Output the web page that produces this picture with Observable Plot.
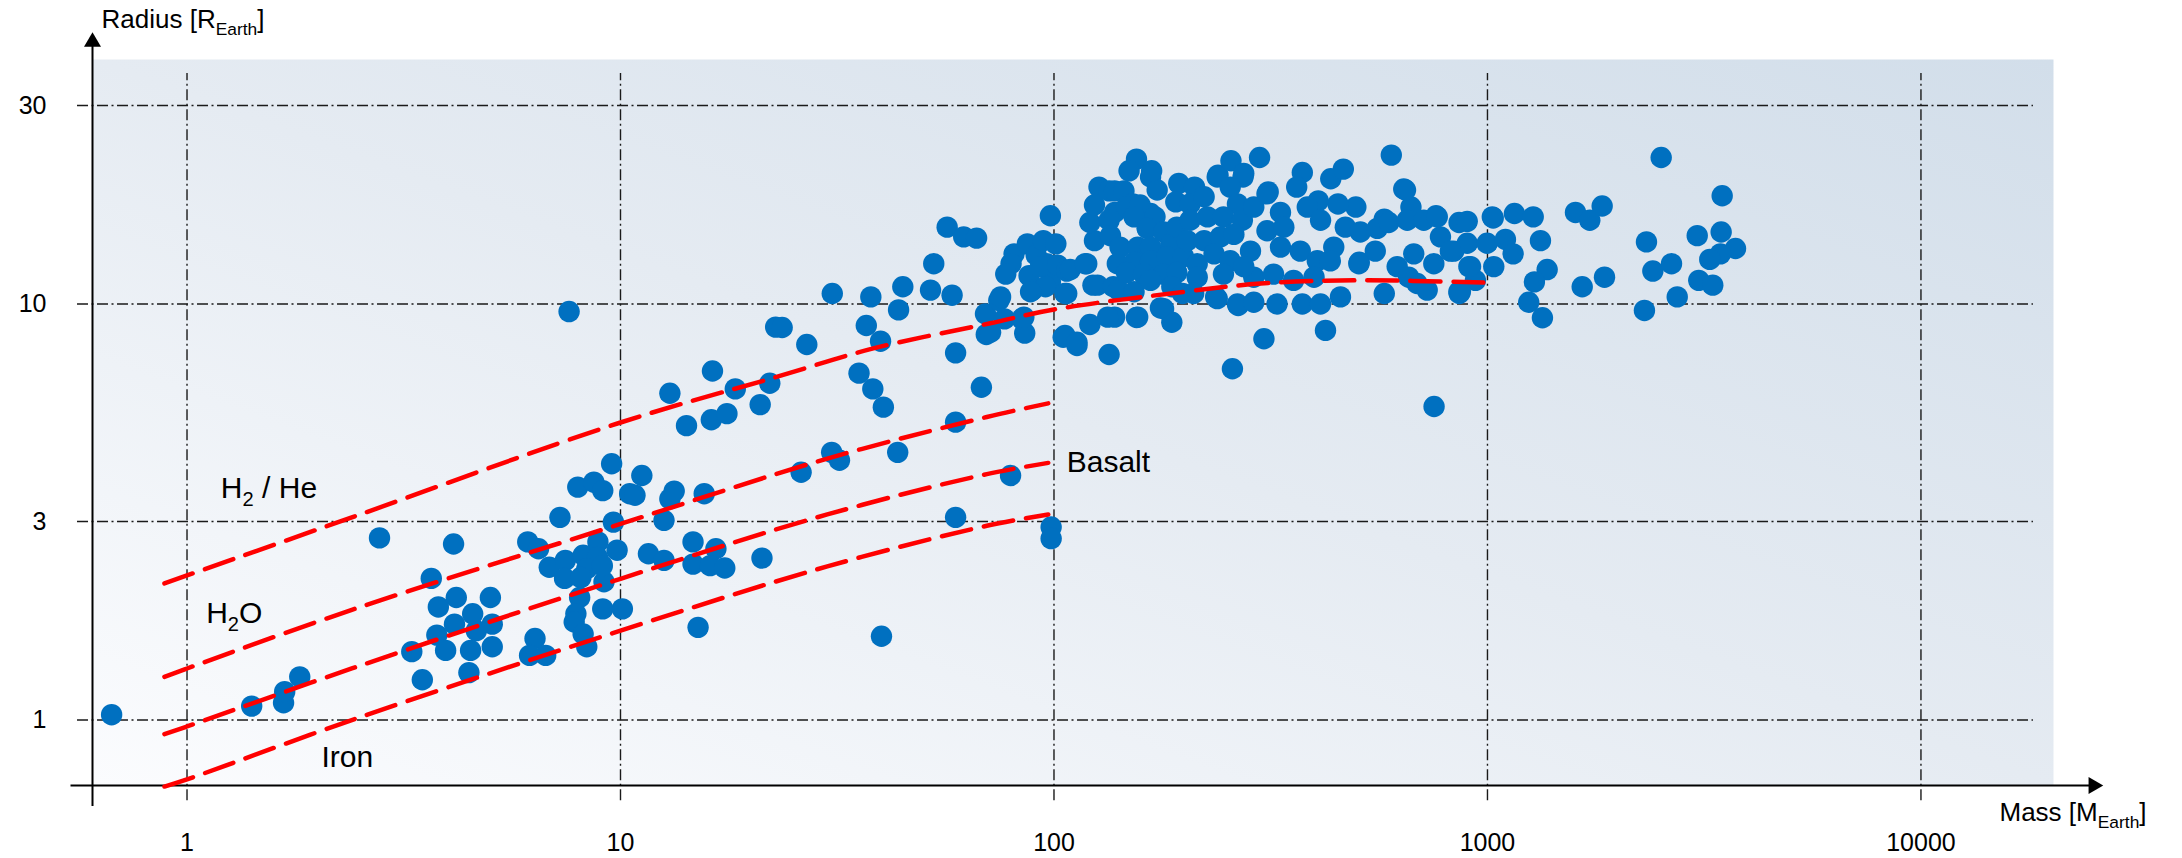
<!DOCTYPE html>
<html>
<head>
<meta charset="utf-8">
<script src="https://cdn.jsdelivr.net/npm/d3@7"></script>
<script src="https://cdn.jsdelivr.net/npm/@observablehq/plot@0.6"></script>
<style>
  html, body { margin: 0; padding: 0; background: #ffffff; }
  #chart svg { display: block; }
</style>
</head>
<body>
<div id="chart"></div>
<script>
// ---------- data (mass in Earth masses, radius in Earth radii) ----------
const planetMass = [
  0.67,1.41,1.67,1.68,1.82,2.78,3.30,3.49,3.66,3.80,3.77,3.95,4.14,4.18,4.12,4.47,4.51,4.56,4.65,5.01,5.06,5.06,
  6.35,6.17,6.72,6.11,6.47,6.85,7.46,7.43,7.25,8.20,8.87,8.85,8.36,9.16,9.82,9.08,8.10,
  7.97,8.68,9.10,9.54,9.63,10.5,10.8,11.2,8.05,7.89,7.82,9.10,10.1,8.20,8.36,
  11.6,12.6,12.6,13.0,13.3,15.6,14.7,16.6,14.7,16.1,17.4,21.2,15.1,40.0,7.61,
  13.0,14.2,16.2,17.6,16.3,18.4,22.1,21.0,22.8,23.6,26.9,26.1,30.7,32.0,43.6,
  30.8,37.8,44.8,43.8,36.9,39.8,35.5,38.2,40.4,
  56.7,61.9,66.3,52.8,51.9,58.2,59.3,69.8,69.5,74.6,68.0,59.3,59.3,79.4,98.5,98.5,
  80.9,86.8,79.6,77.4,87.6,91.0,94.5,98.1,96.3,89.2,98.1,76.9,84.3,85.6,75.3,85.2,71.4,93.1,95.6,88.3,
  101,102,107,107,119,124,121,127,124,134,123,121,106,113,134,138,109,118,106,105,113,138,145,134,135,126,137,133,140,142,
  155,141,153,167,155,149,173,138,152,167,168,147,158,171,153,164,179,156,167,186,153,167,182,199,147,161,179,192,167,187,198,156,179,187,176,194,191,192,
  211,206,222,239,256,298,273,312,238,274,255,265,206,226,246,272,203,222,242,260,214,234,255,214,246,210,238,265,236,266,289,258,289,284,289,274,
  374,363,435,465,497,452,407,310,333,384,412,470,509,310,339,333,370,442,405,434,321,357,398,327,374,412,458,305,423,
  600,641,666,761,578,860,506,551,578,557,592,653,713,779,836,898,998,914,859,938,752,676,619,505,688,658,726,753,898,1026,647,766,861,
  1031,1154,1275,1325,1100,1146,1034,821,906,866,1373,1283,1245,1339,1596,1839,1722,1654,1862,2327,2407,2658,2740,2302,3047,3460,3479,3734,3447,3257,3072,3309,2516
];
const planetRadius = [
  1.03,1.08,1.10,1.17,1.27,2.74,1.46,1.25,2.19,1.87,1.60,1.47,1.70,1.97,2.65,1.30,1.47,1.80,1.64,1.97,1.70,1.50,
  1.57,1.43,1.43,2.68,2.58,2.33,2.42,2.19,3.07,2.49,2.68,2.46,2.31,2.15,2.56,2.35,2.20,
  3.63,3.73,3.56,4.13,2.99,3.50,3.47,3.87,1.97,1.80,1.72,1.85,1.85,1.61,1.50,
  2.51,2.42,3.02,3.40,3.55,3.50,2.68,2.58,2.37,2.35,2.32,2.45,1.67,1.59,9.59,
  6.10,5.10,5.27,5.45,6.90,6.25,6.45,5.73,8.80,8.78,7.99,3.94,4.40,4.21,4.40,
  10.6,10.4,11.0,9.68,8.88,8.14,6.82,6.25,5.65,
  15.3,14.5,14.4,12.5,10.8,10.5,7.63,8.45,9.47,10.2,6.31,5.20,3.07,3.87,2.91,2.73,
  13.2,13.95,12.5,11.8,11.7,13.1,14.2,16.3,12.5,10.8,11.3,9.21,9.21,8.51,10.4,9.30,8.55,12.3,11.0,10.7,
  13.95,12.4,12.0,10.6,12.5,14.2,15.7,19.1,17.3,18.7,11.1,8.93,8.40,7.95,7.56,9.30,12.1,12.5,10.6,8.32,8.09,18.7,18.7,15.9,14.6,11.1,11.0,9.30,12.5,13.7,
  9.28,10.8,10.7,20.2,22.3,20.9,18.8,16.6,17.4,16.5,20.9,17.1,17.3,16.2,16.2,15.2,14.9,13.7,13.7,13.95,12.6,12.7,13.0,13.0,11.9,11.8,11.8,11.9,11.4,11.0,10.6,9.30,9.74,9.04,9.79,19.5,17.6,15.3,
  19.1,17.4,18.1,20.4,22.1,22.5,20.2,18.6,20.2,20.6,19.1,17.4,15.9,16.2,16.2,15.9,14.2,14.2,14.5,14.7,12.5,13.2,12.7,11.6,11.8,10.6,10.3,10.0,10.4,9.92,10.1,6.99,17.1,13.4,11.6,12.3,
  20.7,19.1,20.0,21.1,17.1,17.4,17.7,18.4,16.6,17.1,15.9,15.3,14.9,15.0,15.3,13.7,13.4,13.7,12.7,12.7,11.8,11.4,11.6,10.0,10.0,10.0,10.4,8.25,8.64,
  22.8,18.9,17.1,16.3,16.0,15.7,12.6,13.4,10.6,15.2,15.7,15.9,15.9,14.5,13.4,14.0,14.0,12.3,10.7,11.4,12.5,13.2,12.3,12.5,11.2,11.6,10.8,5.67,15.8,16.2,18.8,16.2,10.6,
  16.1,16.5,16.2,14.2,14.3,13.2,12.3,13.4,12.3,10.7,12.1,11.3,10.1,9.27,16.6,17.2,15.9,11.0,11.6,14.1,12.0,12.5,10.4,9.65,14.6,14.9,18.2,13.6,13.2,12.8,11.4,11.1,22.5
];

// composition curves
const curveNames = ["H2/He", "H2O", "Basalt", "Iron"];
const gasMass = [0.887, 2.4, 10, 22.8, 38.3, 71.3, 100, 200, 300, 500, 1000];
const gasRadius = [2.13, 3.07, 5.19, 6.67, 7.82, 8.99, 9.7, 10.7, 11.2, 11.4, 11.25];
const rockyMass = [0.887, 1, 2.4, 10, 30, 70, 97];
const waterRadius = [1.27, 1.33, 1.84, 2.96, 4.25, 5.35, 5.77];
const basaltRadius = [0.925, 0.965, 1.33, 2.185, 3.12, 3.90, 4.15];
const ironRadius = [0.692, 0.72, 1.00, 1.64, 2.34, 2.93, 3.12];

// annotations
const labelText = ["H_{2} / He", "H_{2}O", "Basalt", "Iron"];
const labelMass = [1.197, 1.107, 107, 2.043];
const labelRadius = [3.41, 1.709, 3.94, 0.770];

// axes
const xTicks = [1, 10, 100, 1000, 10000];
const yTicks = [1, 3, 10, 30];
const xTitle = "Mass [M_{Earth}]";
const yTitle = "Radius [R_{Earth}]";
const xDomain = [0.6053, 20219];
const yDomain = [0.696, 38.7];
const vGridExtent = [0.640, 35.8];     // radius extent of vertical grid lines
const hGridExtent = [0.559, 18178];    // mass extent of horizontal grid lines
const xAxisExtent = [0.540, 25000];    // mass extent of the x axis line
const yAxisExtent = [0.620, 41.6];     // radius extent of the y axis line
const yArrowAt = 42.65;                // radius of y arrow head
const xArrowAt = 25000;                // mass of x arrow head

// ---------- build tables ----------
const planets = planetMass.map((m, i) => ({mass: m, radius: planetRadius[i]}));
const curves = [];
gasMass.forEach((m, i) => curves.push({series: curveNames[0], mass: m, radius: gasRadius[i]}));
[waterRadius, basaltRadius, ironRadius].forEach((arr, k) =>
  rockyMass.forEach((m, i) => curves.push({series: curveNames[k + 1], mass: m, radius: arr[i]})));
const labels = labelText.map((t, i) => ({text: t, mass: labelMass[i], radius: labelRadius[i]}));

const FONT = "'Liberation Sans', Arial, Helvetica, sans-serif";
const GRID = {stroke: "#1a1a1a", strokeWidth: 1.4, strokeDasharray: "11,3.5,2,3.5"};

const svg = Plot.plot({
  width: 2182,
  height: 858,
  marginLeft: 92,
  marginRight: 129,
  marginTop: 59,
  marginBottom: 73,
  style: {fontFamily: FONT, color: "#000", background: "#ffffff", overflow: "visible"},
  x: {type: "log", domain: xDomain},
  y: {type: "log", domain: yDomain},
  marks: [
    Plot.frame({fill: "url(#plotBg)", stroke: "none"}),
    Plot.ruleX(xTicks, {x: d => d, y1: vGridExtent[0], y2: vGridExtent[1], ...GRID}),
    Plot.ruleY(yTicks, {y: d => d, x1: hGridExtent[0], x2: hGridExtent[1], ...GRID}),
    Plot.ruleY([yDomain[0]], {y: d => d, x1: xAxisExtent[0], x2: xAxisExtent[1], stroke: "#000", strokeWidth: 2}),
    Plot.ruleX([xDomain[0]], {x: d => d, y1: yAxisExtent[0], y2: yAxisExtent[1], stroke: "#000", strokeWidth: 2}),
    Plot.dot(planets, {x: "mass", y: "radius", r: 10.7, fill: "#0070C0", stroke: "none"}),
    Plot.line(curves, {x: "mass", y: "radius", z: "series", stroke: "#FF0000", strokeWidth: 4.5,
      strokeDasharray: "30,13", curve: "catmull-rom"}),
    Plot.text(labels, {x: "mass", y: "radius", text: "text", textAnchor: "start", lineAnchor: "bottom",
      fontSize: 30, fill: "#000"}),
    Plot.dot([0], {x: xDomain[0], y: yArrowAt, symbol: "triangle", r: 6.3, fill: "#000", stroke: "none"}),
    Plot.dot([0], {x: xArrowAt, y: yDomain[0], symbol: "triangle", r: 6.3, rotate: 90, fill: "#000", stroke: "none"}),
    Plot.axisX(xTicks, {tickSize: 0, tickPadding: 48, fontSize: 25, tickFormat: d => String(d), label: null}),
    Plot.axisY(yTicks, {tickSize: 0, tickPadding: 46, fontSize: 25, tickFormat: d => String(d), label: null}),
    Plot.text([yTitle], {frameAnchor: "top-left", text: d => d, dx: 9, dy: -32, textAnchor: "start",
      lineAnchor: "bottom", fontSize: 26}),
    Plot.text([xTitle], {frameAnchor: "bottom-right", text: d => d, dx: -54, dy: 35, textAnchor: "start",
      lineAnchor: "bottom", fontSize: 26})
  ]
});

// background gradient used by the frame
const defs = d3.select(svg).insert("defs", ":first-child");
const grad = defs.append("linearGradient").attr("id", "plotBg")
  .attr("x1", 0).attr("y1", 1).attr("x2", 1).attr("y2", 0);
grad.append("stop").attr("offset", 0).attr("stop-color", "#fbfcfe");
grad.append("stop").attr("offset", 0.5).attr("stop-color", "#e5ebf2");
grad.append("stop").attr("offset", 1).attr("stop-color", "#d2deea");

document.getElementById("chart").appendChild(svg);

// subscripts: "_{...}" in text becomes a lowered, smaller tspan
function applySubscripts(root) {
  root.querySelectorAll("text").forEach(el => {
    const t = el.textContent;
    if (!t.includes("_{")) return;
    const fs = parseFloat(getComputedStyle(el).fontSize) || 25;
    const parts = t.split(/(_\{[^}]*\})/).filter(p => p);
    el.textContent = "";
    let shift = 0;
    for (const p of parts) {
      const ts = document.createElementNS("http://www.w3.org/2000/svg", "tspan");
      if (p.startsWith("_{")) {
        ts.textContent = p.slice(2, -1);
        ts.setAttribute("font-size", (fs * 0.67).toFixed(1));
        const d = fs * 0.27;
        ts.setAttribute("dy", (d - shift).toFixed(1));
        shift = d;
      } else {
        ts.textContent = p;
        if (shift) { ts.setAttribute("dy", (-shift).toFixed(1)); shift = 0; }
      }
      el.appendChild(ts);
    }
  });
}
applySubscripts(svg);
</script>
</body>
</html>
